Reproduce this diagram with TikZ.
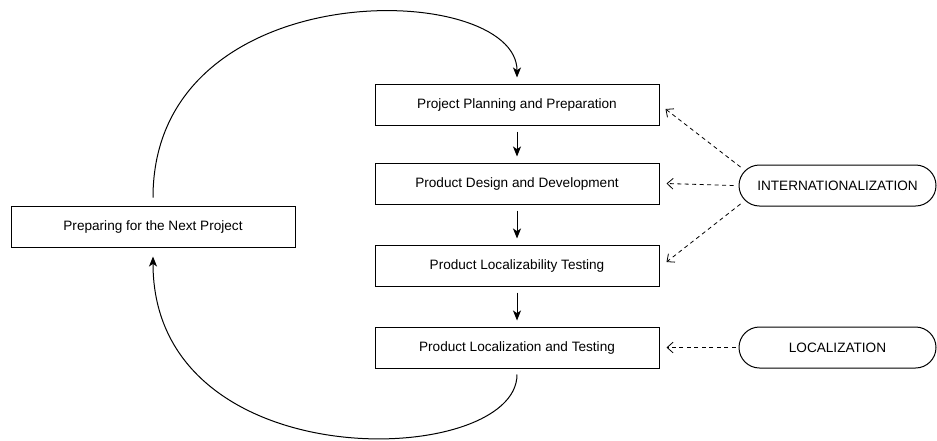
\documentclass[tikz,border=0pt]{standalone}
\usepackage{fontspec}
\setmainfont{Liberation Sans}
\usetikzlibrary{arrows.meta,calc,shapes.misc}

\begin{document}
\begin{tikzpicture}[
  x=0.75pt, y=-0.75pt,
  font=\fontsize{10.2}{12}\selectfont,
  stage/.style={draw, line width=0.75pt, rectangle, minimum width={284*0.75pt},
                minimum height={41*0.75pt}, inner sep=0pt},
  scope/.style={draw, line width=0.75pt, rounded rectangle, minimum width={197*0.75pt},
                minimum height={41*0.75pt}, inner sep=0pt},
  flow/.style={line width=0.75pt, -{Stealth[length=7.5pt,width=6pt,inset=2pt]}},
  feed/.style={line width=0.6pt, dash pattern=on 3pt off 2.6pt,
               -{Straight Barb[length=4.5pt,width=8pt]}},
]
\useasboundingbox (0,0) rectangle (937,440);

% process stages
\node[stage] (plan) at (517,104.5) {Project Planning and Preparation};
\node[stage] (design) at (517,183.5) {Product Design and Development};
\node[stage] (ltest) at (517,265.5) {Product Localizability Testing};
\node[stage] (loc) at (517,347.5) {Product Localization and Testing};
\node[stage] (next) at (153,226.5) {Preparing for the Next Project};

% supporting activities
\node[scope] (i18n) at (837.5,185.5) {INTERNATIONALIZATION};
\node[scope] (l10n) at (837.5,347.5) {LOCALIZATION};

% main sequence
\draw[flow, shorten <=6pt*0.75, shorten >=4.5pt] (plan.south) -- (design.north);
\draw[flow, shorten <=4.5pt, shorten >=4.5pt] (design.south) -- (ltest.north);
\draw[flow, shorten <=4.5pt, shorten >=4.5pt] (ltest.south) -- (loc.north);

% cycle back to the start
\draw[flow] ($(loc.south)+(0,6)$) .. controls (517,468) and (153,482) .. ($(next.south)+(0,9)$);
\draw[flow] ($(next.north)+(0,-8)$) .. controls (153,-30) and (517,-20) .. ($(plan.north)+(0,-6)$);

% dashed influences
\draw[feed] ($(i18n.west)+(2,-18.5)$) -- ($(plan.east)+(6,4.5)$);
\draw[feed] ($(i18n.west)+(-5,0)$) -- ($(design.east)+(7,0)$);
\draw[feed] ($(i18n.west)+(2,18.5)$) -- ($(ltest.east)+(7,-3.5)$);
\draw[feed] ($(l10n.west)+(-3,0)$) -- ($(loc.east)+(7,0)$);
\end{tikzpicture}
\end{document}
